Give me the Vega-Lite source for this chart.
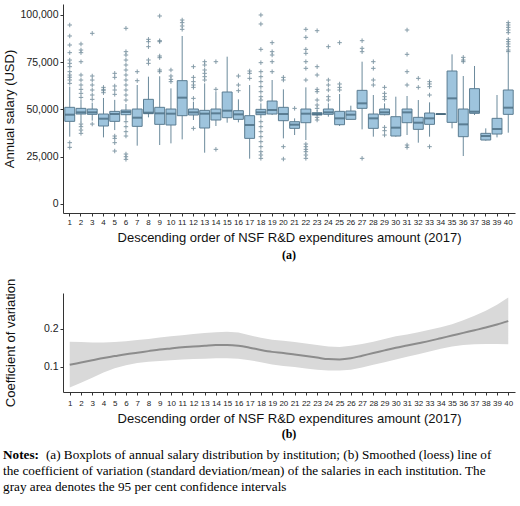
{
  "$schema": "https://vega.github.io/schema/vega-lite/v6.json",
  "padding": {"left": 3, "top": 4, "right": 4, "bottom": 4},
  "background": "white",
  "config": {
    "view": {"stroke": null},
    "axis": {"domainColor": "#333333", "tickColor": "#333333", "labelColor": "#222222", "titleColor": "#111111", "labelFont": "Liberation Sans", "titleFont": "Liberation Sans", "titleFontWeight": "normal", "grid": false, "tickSize": 3, "labelPadding": 2}
  },
  "datasets": {
    "boxes": [
      {"inst": 1, "lo": 35500, "q1": 43620, "med": 47150, "q3": 51040, "hi": 62000},
      {"inst": 2, "lo": 43000, "q1": 47500, "med": 48390, "q3": 50500, "hi": 55000},
      {"inst": 3, "lo": 44000, "q1": 47330, "med": 48390, "q3": 50150, "hi": 53500},
      {"inst": 4, "lo": 35140, "q1": 41150, "med": 45030, "q3": 47500, "hi": 56000},
      {"inst": 5, "lo": 39000, "q1": 43620, "med": 47500, "q3": 48900, "hi": 55000},
      {"inst": 6, "lo": 44500, "q1": 47150, "med": 48560, "q3": 49600, "hi": 52800},
      {"inst": 7, "lo": 30730, "q1": 40970, "med": 45560, "q3": 50150, "hi": 62870},
      {"inst": 8, "lo": 45740, "q1": 47680, "med": 48210, "q3": 55280, "hi": 67280},
      {"inst": 9, "lo": 31080, "q1": 42030, "med": 47860, "q3": 51040, "hi": 67500},
      {"inst": 10, "lo": 31960, "q1": 41680, "med": 47680, "q3": 50150, "hi": 61100},
      {"inst": 11, "lo": 34080, "q1": 46620, "med": 56160, "q3": 65170, "hi": 88830},
      {"inst": 12, "lo": 44330, "q1": 46980, "med": 48390, "q3": 50150, "hi": 54040},
      {"inst": 13, "lo": 27020, "q1": 40090, "med": 47680, "q3": 49450, "hi": 63750},
      {"inst": 14, "lo": 41150, "q1": 44330, "med": 47860, "q3": 50150, "hi": 59340},
      {"inst": 15, "lo": 42910, "q1": 45560, "med": 49270, "q3": 59160, "hi": 77880},
      {"inst": 16, "lo": 43090, "q1": 44680, "med": 47330, "q3": 49270, "hi": 55270},
      {"inst": 17, "lo": 23840, "q1": 34610, "med": 41680, "q3": 46620, "hi": 62870},
      {"inst": 18, "lo": 45200, "q1": 47150, "med": 48390, "q3": 49980, "hi": 53160},
      {"inst": 19, "lo": 46970, "q1": 47500, "med": 49620, "q3": 54390, "hi": 65520},
      {"inst": 20, "lo": 34610, "q1": 43970, "med": 47500, "q3": 51040, "hi": 60570},
      {"inst": 21, "lo": 36380, "q1": 39910, "med": 41850, "q3": 43440, "hi": 45200},
      {"inst": 22, "lo": 33730, "q1": 42910, "med": 47680, "q3": 50150, "hi": 61630},
      {"inst": 23, "lo": 46440, "q1": 46980, "med": 47500, "q3": 48210, "hi": 49620},
      {"inst": 24, "lo": 46090, "q1": 47330, "med": 48390, "q3": 50150, "hi": 53160},
      {"inst": 25, "lo": 41150, "q1": 41850, "med": 45210, "q3": 48920, "hi": 58100},
      {"inst": 26, "lo": 44680, "q1": 44680, "med": 47150, "q3": 49090, "hi": 51920},
      {"inst": 27, "lo": 39380, "q1": 50510, "med": 53160, "q3": 60040, "hi": 75230},
      {"inst": 28, "lo": 35500, "q1": 39910, "med": 45210, "q3": 47500, "hi": 57570},
      {"inst": 29, "lo": 46800, "q1": 47150, "med": 48390, "q3": 50150, "hi": 53160},
      {"inst": 30, "lo": 35500, "q1": 35850, "med": 40270, "q3": 46090, "hi": 56690},
      {"inst": 31, "lo": 36380, "q1": 42910, "med": 48390, "q3": 50150, "hi": 57040},
      {"inst": 32, "lo": 32320, "q1": 39380, "med": 42910, "q3": 45740, "hi": 54920},
      {"inst": 33, "lo": 35500, "q1": 42030, "med": 45210, "q3": 48030, "hi": 53690},
      {"inst": 34, "lo": 47300, "q1": 47300, "med": 47500, "q3": 47600, "hi": 47600},
      {"inst": 35, "lo": 39910, "q1": 43090, "med": 55800, "q3": 70290, "hi": 79120},
      {"inst": 36, "lo": 25250, "q1": 35500, "med": 42030, "q3": 50150, "hi": 67640},
      {"inst": 37, "lo": 46970, "q1": 47860, "med": 48740, "q3": 60930, "hi": 72940},
      {"inst": 38, "lo": 33380, "q1": 33730, "med": 35850, "q3": 37260, "hi": 39910},
      {"inst": 39, "lo": 35140, "q1": 36910, "med": 39560, "q3": 45210, "hi": 57570},
      {"inst": 40, "lo": 37620, "q1": 47330, "med": 50860, "q3": 60220, "hi": 79650}
    ],
    "outliers": [
      {"inst": 1, "salary": 94660}, {"inst": 1, "salary": 88830}, {"inst": 1, "salary": 84060}, {"inst": 1, "salary": 80000}, {"inst": 1, "salary": 76100}, {"inst": 1, "salary": 74350}, {"inst": 1, "salary": 72580}, {"inst": 1, "salary": 69930}, {"inst": 1, "salary": 68170}, {"inst": 1, "salary": 67000}, {"inst": 1, "salary": 65520}, {"inst": 1, "salary": 63750}, {"inst": 1, "salary": 32320}, {"inst": 1, "salary": 29850},
      {"inst": 2, "salary": 84600}, {"inst": 2, "salary": 81400}, {"inst": 2, "salary": 80000}, {"inst": 2, "salary": 75200}, {"inst": 2, "salary": 68170}, {"inst": 2, "salary": 65500}, {"inst": 2, "salary": 62870}, {"inst": 2, "salary": 60570}, {"inst": 2, "salary": 58450}, {"inst": 2, "salary": 56300}, {"inst": 2, "salary": 42200}, {"inst": 2, "salary": 40800}, {"inst": 2, "salary": 39000}, {"inst": 2, "salary": 37260},
      {"inst": 3, "salary": 90240}, {"inst": 3, "salary": 67640}, {"inst": 3, "salary": 65500}, {"inst": 3, "salary": 62870}, {"inst": 3, "salary": 60220}, {"inst": 3, "salary": 57570}, {"inst": 3, "salary": 55270}, {"inst": 3, "salary": 42200},
      {"inst": 4, "salary": 61630}, {"inst": 4, "salary": 60570}, {"inst": 4, "salary": 59870}, {"inst": 4, "salary": 58800},
      {"inst": 5, "salary": 69050}, {"inst": 5, "salary": 66930}, {"inst": 5, "salary": 62340}, {"inst": 5, "salary": 60220}, {"inst": 5, "salary": 57920}, {"inst": 5, "salary": 35850}, {"inst": 5, "salary": 34610}, {"inst": 5, "salary": 32320}, {"inst": 5, "salary": 27900},
      {"inst": 6, "salary": 92900}, {"inst": 6, "salary": 80530}, {"inst": 6, "salary": 78760}, {"inst": 6, "salary": 76100}, {"inst": 6, "salary": 73470}, {"inst": 6, "salary": 70820}, {"inst": 6, "salary": 68170}, {"inst": 6, "salary": 65520}, {"inst": 6, "salary": 62870}, {"inst": 6, "salary": 60220}, {"inst": 6, "salary": 57570}, {"inst": 6, "salary": 54900}, {"inst": 6, "salary": 43440}, {"inst": 6, "salary": 40800}, {"inst": 6, "salary": 38150}, {"inst": 6, "salary": 35850}, {"inst": 6, "salary": 26310}, {"inst": 6, "salary": 24900}, {"inst": 6, "salary": 23490},
      {"inst": 7, "salary": 69930}, {"inst": 7, "salary": 65160},
      {"inst": 8, "salary": 87060}, {"inst": 8, "salary": 85830}, {"inst": 8, "salary": 83180}, {"inst": 8, "salary": 76110}, {"inst": 8, "salary": 74340},
      {"inst": 9, "salary": 99430}, {"inst": 9, "salary": 86360}, {"inst": 9, "salary": 85830}, {"inst": 9, "salary": 78230}, {"inst": 9, "salary": 77350}, {"inst": 9, "salary": 70820}, {"inst": 9, "salary": 69930},
      {"inst": 10, "salary": 70820}, {"inst": 10, "salary": 67640}, {"inst": 10, "salary": 65870}, {"inst": 10, "salary": 64640},
      {"inst": 11, "salary": 97300}, {"inst": 11, "salary": 95900}, {"inst": 11, "salary": 94130}, {"inst": 11, "salary": 92360},
      {"inst": 12, "salary": 72580}, {"inst": 12, "salary": 66930}, {"inst": 12, "salary": 64640}, {"inst": 12, "salary": 62870}, {"inst": 12, "salary": 61630}, {"inst": 12, "salary": 55800}, {"inst": 12, "salary": 39900},
      {"inst": 13, "salary": 75230}, {"inst": 13, "salary": 73470}, {"inst": 13, "salary": 70820}, {"inst": 13, "salary": 69050}, {"inst": 13, "salary": 67280}, {"inst": 13, "salary": 65520},
      {"inst": 14, "salary": 75230}, {"inst": 14, "salary": 60570}, {"inst": 14, "salary": 28790},
      {"inst": 16, "salary": 67640}, {"inst": 16, "salary": 62870}, {"inst": 16, "salary": 59870},
      {"inst": 17, "salary": 70290}, {"inst": 17, "salary": 69050}, {"inst": 17, "salary": 66400},
      {"inst": 18, "salary": 99960}, {"inst": 18, "salary": 95190}, {"inst": 18, "salary": 81760}, {"inst": 18, "salary": 74700}, {"inst": 18, "salary": 69930}, {"inst": 18, "salary": 67280}, {"inst": 18, "salary": 64640}, {"inst": 18, "salary": 61990}, {"inst": 18, "salary": 59340}, {"inst": 18, "salary": 56690}, {"inst": 18, "salary": 54920}, {"inst": 18, "salary": 43440}, {"inst": 18, "salary": 40800}, {"inst": 18, "salary": 38150}, {"inst": 18, "salary": 35500}, {"inst": 18, "salary": 32850}, {"inst": 18, "salary": 30200}, {"inst": 18, "salary": 27550}, {"inst": 18, "salary": 25780}, {"inst": 18, "salary": 24020},
      {"inst": 19, "salary": 85300}, {"inst": 19, "salary": 80530}, {"inst": 19, "salary": 78760}, {"inst": 19, "salary": 75230}, {"inst": 19, "salary": 69930},
      {"inst": 20, "salary": 66930}, {"inst": 20, "salary": 65520}, {"inst": 20, "salary": 30200}, {"inst": 20, "salary": 23660},
      {"inst": 21, "salary": 50500},
      {"inst": 22, "salary": 92360}, {"inst": 22, "salary": 88120}, {"inst": 22, "salary": 81760}, {"inst": 22, "salary": 79650}, {"inst": 22, "salary": 75230}, {"inst": 22, "salary": 71700}, {"inst": 22, "salary": 65520}, {"inst": 22, "salary": 31610}, {"inst": 22, "salary": 30200}, {"inst": 22, "salary": 28790}, {"inst": 22, "salary": 27550}, {"inst": 22, "salary": 25780}, {"inst": 22, "salary": 24020},
      {"inst": 23, "salary": 91650}, {"inst": 23, "salary": 72580}, {"inst": 23, "salary": 68170}, {"inst": 23, "salary": 60570}, {"inst": 23, "salary": 59340}, {"inst": 23, "salary": 54920}, {"inst": 23, "salary": 52270}, {"inst": 23, "salary": 50500}, {"inst": 23, "salary": 45740}, {"inst": 23, "salary": 44330},
      {"inst": 24, "salary": 83180}, {"inst": 24, "salary": 65520}, {"inst": 24, "salary": 62870}, {"inst": 24, "salary": 60220}, {"inst": 24, "salary": 56690}, {"inst": 24, "salary": 54920},
      {"inst": 25, "salary": 85300}, {"inst": 25, "salary": 63400}, {"inst": 25, "salary": 61630}, {"inst": 25, "salary": 60220},
      {"inst": 27, "salary": 86360}, {"inst": 27, "salary": 82300}, {"inst": 27, "salary": 80530}, {"inst": 27, "salary": 24020},
      {"inst": 28, "salary": 75230}, {"inst": 28, "salary": 71700}, {"inst": 28, "salary": 65520}, {"inst": 28, "salary": 62870},
      {"inst": 29, "salary": 61630}, {"inst": 29, "salary": 58450}, {"inst": 29, "salary": 56690}, {"inst": 29, "salary": 55270}, {"inst": 29, "salary": 40440}, {"inst": 29, "salary": 38680}, {"inst": 29, "salary": 36380},
      {"inst": 31, "salary": 92010}, {"inst": 31, "salary": 79120}, {"inst": 31, "salary": 69930}, {"inst": 31, "salary": 62870}, {"inst": 31, "salary": 31080}, {"inst": 31, "salary": 29850},
      {"inst": 32, "salary": 66400}, {"inst": 32, "salary": 61630},
      {"inst": 33, "salary": 64640}, {"inst": 33, "salary": 63400}, {"inst": 33, "salary": 61990}, {"inst": 33, "salary": 57570}, {"inst": 33, "salary": 30200},
      {"inst": 36, "salary": 77530}, {"inst": 36, "salary": 76100}, {"inst": 36, "salary": 75230},
      {"inst": 40, "salary": 95900}, {"inst": 40, "salary": 94660}, {"inst": 40, "salary": 93420}, {"inst": 40, "salary": 92010}, {"inst": 40, "salary": 90600}, {"inst": 40, "salary": 87060}, {"inst": 40, "salary": 85830}, {"inst": 40, "salary": 84600}, {"inst": 40, "salary": 83180}, {"inst": 40, "salary": 81410}, {"inst": 40, "salary": 80530}
    ],
    "cv": [
      {"inst": 1, "fit": 0.105, "lower": 0.045, "upper": 0.166},
      {"inst": 2, "fit": 0.111, "lower": 0.058, "upper": 0.165},
      {"inst": 3, "fit": 0.117, "lower": 0.071, "upper": 0.164},
      {"inst": 4, "fit": 0.123, "lower": 0.085, "upper": 0.164},
      {"inst": 5, "fit": 0.128, "lower": 0.096, "upper": 0.165},
      {"inst": 6, "fit": 0.133, "lower": 0.104, "upper": 0.167},
      {"inst": 7, "fit": 0.137, "lower": 0.110, "upper": 0.170},
      {"inst": 8, "fit": 0.141, "lower": 0.113, "upper": 0.173},
      {"inst": 9, "fit": 0.145, "lower": 0.115, "upper": 0.177},
      {"inst": 10, "fit": 0.148, "lower": 0.117, "upper": 0.180},
      {"inst": 11, "fit": 0.151, "lower": 0.119, "upper": 0.183},
      {"inst": 12, "fit": 0.153, "lower": 0.120, "upper": 0.186},
      {"inst": 13, "fit": 0.155, "lower": 0.121, "upper": 0.189},
      {"inst": 14, "fit": 0.157, "lower": 0.122, "upper": 0.191},
      {"inst": 15, "fit": 0.157, "lower": 0.122, "upper": 0.192},
      {"inst": 16, "fit": 0.155, "lower": 0.121, "upper": 0.190},
      {"inst": 17, "fit": 0.150, "lower": 0.117, "upper": 0.183},
      {"inst": 18, "fit": 0.144, "lower": 0.112, "upper": 0.176},
      {"inst": 19, "fit": 0.139, "lower": 0.106, "upper": 0.171},
      {"inst": 20, "fit": 0.136, "lower": 0.102, "upper": 0.168},
      {"inst": 21, "fit": 0.132, "lower": 0.099, "upper": 0.165},
      {"inst": 22, "fit": 0.128, "lower": 0.095, "upper": 0.161},
      {"inst": 23, "fit": 0.124, "lower": 0.092, "upper": 0.157},
      {"inst": 24, "fit": 0.120, "lower": 0.090, "upper": 0.153},
      {"inst": 25, "fit": 0.119, "lower": 0.090, "upper": 0.152},
      {"inst": 26, "fit": 0.122, "lower": 0.092, "upper": 0.155},
      {"inst": 27, "fit": 0.129, "lower": 0.098, "upper": 0.160},
      {"inst": 28, "fit": 0.136, "lower": 0.105, "upper": 0.166},
      {"inst": 29, "fit": 0.143, "lower": 0.112, "upper": 0.173},
      {"inst": 30, "fit": 0.150, "lower": 0.119, "upper": 0.180},
      {"inst": 31, "fit": 0.156, "lower": 0.126, "upper": 0.185},
      {"inst": 32, "fit": 0.162, "lower": 0.133, "upper": 0.191},
      {"inst": 33, "fit": 0.168, "lower": 0.140, "upper": 0.197},
      {"inst": 34, "fit": 0.175, "lower": 0.147, "upper": 0.204},
      {"inst": 35, "fit": 0.182, "lower": 0.153, "upper": 0.212},
      {"inst": 36, "fit": 0.189, "lower": 0.157, "upper": 0.222},
      {"inst": 37, "fit": 0.196, "lower": 0.159, "upper": 0.234},
      {"inst": 38, "fit": 0.203, "lower": 0.160, "upper": 0.247},
      {"inst": 39, "fit": 0.211, "lower": 0.160, "upper": 0.263},
      {"inst": 40, "fit": 0.220, "lower": 0.159, "upper": 0.282}
    ]
  },
  "title": {
    "text": "Notes:",
    "subtitle": [
      "\u200b\u00a0\u00a0\u00a0\u00a0\u00a0\u00a0\u00a0\u00a0\u00a0\u00a0\u00a0\u00a0\u00a0(a) Boxplots of annual salary distribution by institution; (b) Smoothed (loess) line of",
      "the coefficient of variation (standard deviation/mean) of the salaries in each institution. The",
      "gray area denotes the 95 per cent confidence intervals"
    ],
    "orient": "bottom",
    "anchor": "start",
    "font": "Liberation Serif",
    "fontSize": 13.2,
    "fontWeight": "bold",
    "color": "#000000",
    "subtitleFont": "Liberation Serif",
    "subtitleFontSize": 13.2,
    "subtitleColor": "#000000",
    "subtitlePadding": -13,
    "subtitleLineHeight": 16,
    "offset": 9
  },
  "spacing": 17,
  "vconcat": [
    {
      "width": 452,
      "height": 209,
      "title": {"text": "(a)", "orient": "bottom", "font": "Liberation Serif", "fontSize": 12, "fontWeight": "bold", "color": "#000000", "offset": 6},
      "layer": [
        {
          "data": {"name": "boxes"},
          "mark": {"type": "rule", "color": "#6b8a9c", "strokeWidth": 1},
          "encoding": {
            "x": {"field": "inst", "type": "ordinal", "scale": {"domain": [1,2,3,4,5,6,7,8,9,10,11,12,13,14,15,16,17,18,19,20,21,22,23,24,25,26,27,28,29,30,31,32,33,34,35,36,37,38,39,40], "paddingInner": 0.12, "paddingOuter": 0.16}, "axis": {"title": "Descending order of NSF R&D expenditures amount (2017)", "labelAngle": 0, "labelFontSize": 8, "titleFontSize": 13, "titlePadding": 5}},
            "y": {"field": "lo", "type": "quantitative", "scale": {"domain": [-4926, 105780], "nice": false, "zero": false}, "axis": {"title": "Annual salary (USD)", "values": [0, 25000, 50000, 75000, 100000], "format": ",d", "labelFontSize": 10.5, "titleFontSize": 13, "titlePadding": 4}},
            "y2": {"field": "hi"}
          }
        },
        {
          "data": {"name": "boxes"},
          "mark": {"type": "bar", "fill": "#9ec4dd", "stroke": "#5b7d92", "strokeWidth": 1},
          "encoding": {
            "x": {"field": "inst", "type": "ordinal"},
            "y": {"field": "q1", "type": "quantitative"},
            "y2": {"field": "q3"}
          }
        },
        {
          "data": {"name": "boxes"},
          "mark": {"type": "tick", "color": "#3d5f73", "thickness": 2, "size": 9.5},
          "encoding": {
            "x": {"field": "inst", "type": "ordinal"},
            "y": {"field": "med", "type": "quantitative"}
          }
        },
        {
          "data": {"name": "outliers"},
          "mark": {"type": "point", "shape": "M-1,0L1,0M0,-1L0,1", "filled": false, "stroke": "#6f8a99", "strokeWidth": 1, "size": 20, "opacity": 0.85},
          "encoding": {
            "x": {"field": "inst", "type": "ordinal"},
            "y": {"field": "salary", "type": "quantitative"}
          }
        }
      ]
    },
    {
      "width": 452,
      "height": 99,
      "title": {"text": "(b)", "orient": "bottom", "font": "Liberation Serif", "fontSize": 12, "fontWeight": "bold", "color": "#000000", "offset": 4},
      "data": {"name": "cv"},
      "encoding": {
        "x": {"field": "inst", "type": "quantitative", "scale": {"domain": [0.4, 40.6], "nice": false, "zero": false}, "axis": {"title": "Descending order of NSF R&D expenditures amount (2017)", "values": [1,2,3,4,5,6,7,8,9,10,11,12,13,14,15,16,17,18,19,20,21,22,23,24,25,26,27,28,29,30,31,32,33,34,35,36,37,38,39,40], "format": "d", "labelAngle": 0, "labelFontSize": 8, "labelOverlap": false, "labelPadding": 4, "titleFontSize": 13, "titlePadding": 5}}
      },
      "layer": [
        {
          "mark": {"type": "area", "color": "#d9d9d9", "opacity": 1},
          "encoding": {
            "y": {"field": "lower", "type": "quantitative", "scale": {"domain": [0.0334, 0.294], "nice": false, "zero": false}, "axis": {"title": "Coefficient of variation", "values": [0.1, 0.2], "format": ".1f", "labelFontSize": 10.5, "titleFontSize": 13, "titlePadding": 26}},
            "y2": {"field": "upper"}
          }
        },
        {
          "mark": {"type": "line", "color": "#8c8c8c", "strokeWidth": 2, "interpolate": "monotone"},
          "encoding": {
            "y": {"field": "fit", "type": "quantitative"}
          }
        }
      ]
    }
  ]
}
